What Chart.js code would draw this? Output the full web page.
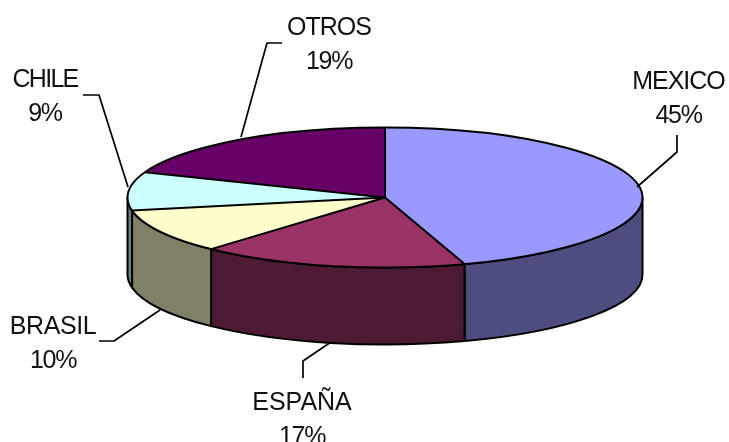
<!DOCTYPE html>
<html>
<head>
<meta charset="utf-8">
<style>
html,body{margin:0;padding:0;background:#fff;overflow:hidden}
canvas{display:block}
</style>
<script src="https://cdn.jsdelivr.net/npm/chart.js@4/dist/chart.umd.js"></script>
</head>
<body>
<canvas id="c" width="729" height="442" style="width:729px;height:442px"></canvas>
<script>
const categories = ['MEXICO', 'ESPAÑA', 'BRASIL', 'CHILE', 'OTROS'];
const shares = [45.0, 16.8, 10.2, 8.9, 19.1];
const topColors = ['#9999FF', '#993366', '#FFFFCC', '#CCFFFF', '#660066'];
const sideColors = ['#4D4D80', '#4D1A33', '#808066', '#668080', '#330033'];

const tilt = { cx: 385, cy: 197.5, rx: 257.5, ry: 70, depth: 77 };
const labelFont = '25px "Liberation Sans", Arial, sans-serif';
const labelGap = 34;
const labelSpots = {
  MEXICO: { x: 678.5, y: 89,  track: -1, line: [[677,135],[677,152],[637,187]] },
  'ESPAÑA': { x: 302, y: 410, track: 0, line: [[303,378],[303,361],[331,342]] },
  BRASIL: { x: 53,  y: 334, track: -0.4, line: [[99,341],[114,341],[160,310]] },
  CHILE:  { x: 45,  y: 87,  track: -1.7, line: [[83,95],[99,95],[128,187]] },
  OTROS:  { x: 329, y: 35,  track: -1, line: [[282,43],[267,43],[241,137]] }
};

const tiltedPie = {
  id: 'tiltedPie',
  beforeDatasetsDraw(chart) {
    const ctx = chart.ctx, t = tilt;
    const arcs = chart.getDatasetMeta(0).data;
    ctx.save();
    ctx.lineWidth = 2;
    ctx.strokeStyle = '#000';
    ctx.lineJoin = 'round';
    arcs.forEach((a, i) => {
      const s = Math.max(a.startAngle, 0), e = Math.min(a.endAngle, Math.PI);
      if (e <= s) return;
      ctx.beginPath();
      ctx.ellipse(t.cx, t.cy, t.rx, t.ry, 0, s, e);
      ctx.ellipse(t.cx, t.cy + t.depth, t.rx, t.ry, 0, e, s, true);
      ctx.closePath();
      ctx.fillStyle = sideColors[i];
      ctx.fill();
      ctx.stroke();
    });
    ctx.restore();
    const a0 = arcs[0];
    ctx.save();
    ctx.translate(t.cx, t.cy);
    ctx.scale(t.rx / a0.outerRadius, t.ry / a0.outerRadius);
    ctx.translate(-a0.x, -a0.y);
  },
  afterDatasetsDraw(chart) {
    const ctx = chart.ctx, t = tilt;
    ctx.restore();
    const arcs = chart.getDatasetMeta(0).data;
    ctx.save();
    ctx.lineWidth = 2;
    ctx.strokeStyle = '#000';
    ctx.lineJoin = 'round';
    arcs.forEach(a => {
      ctx.beginPath();
      ctx.moveTo(t.cx, t.cy);
      ctx.lineTo(t.cx + t.rx * Math.cos(a.startAngle), t.cy + t.ry * Math.sin(a.startAngle));
      ctx.stroke();
    });
    ctx.beginPath();
    ctx.ellipse(t.cx, t.cy, t.rx, t.ry, 0, 0, Math.PI * 2);
    ctx.stroke();
    ctx.lineWidth = 1.7;
    ctx.font = labelFont;
    ctx.fillStyle = '#111';
    ctx.textAlign = 'center';
    ctx.textBaseline = 'alphabetic';
    categories.forEach((name, i) => {
      const p = labelSpots[name];
      ctx.beginPath();
      p.line.forEach((q, k) => k ? ctx.lineTo(q[0], q[1]) : ctx.moveTo(q[0], q[1]));
      ctx.stroke();
      ctx.letterSpacing = p.track + 'px';
      ctx.fillText(name, p.x, p.y);
      ctx.letterSpacing = '-1.3px';
      ctx.fillText(Math.round(shares[i]) + '%', p.x, p.y + labelGap);
    });
    ctx.restore();
  }
};

new Chart(document.getElementById('c'), {
  type: 'pie',
  data: {
    labels: categories,
    datasets: [{ data: shares, backgroundColor: topColors, borderWidth: 0 }]
  },
  options: {
    responsive: false,
    animation: false,
    devicePixelRatio: 1,
    layout: { padding: 10 },
    plugins: { legend: { display: false }, tooltip: { enabled: false } }
  },
  plugins: [tiltedPie]
});
</script>
</body>
</html>
